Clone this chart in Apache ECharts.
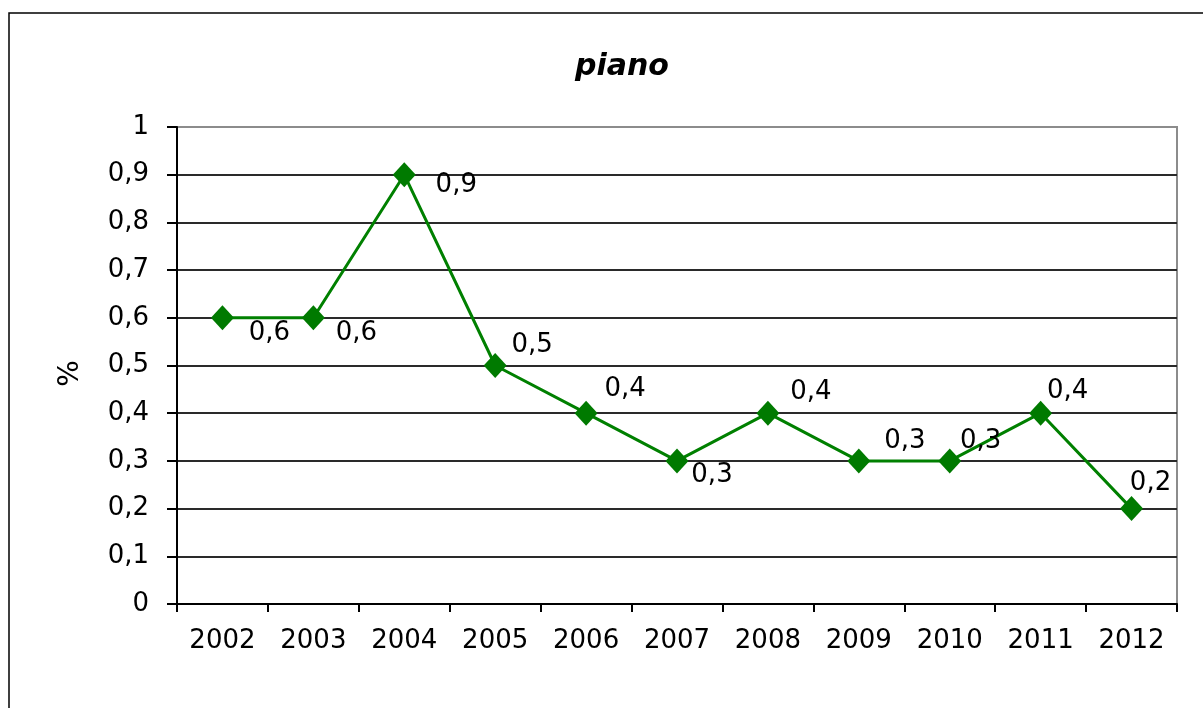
<!DOCTYPE html>
<html>
<head>
<meta charset="utf-8">
<script src="https://cdn.jsdelivr.net/npm/echarts@6/dist/echarts.min.js"></script>
<style>html,body{margin:0;padding:0;background:#fff;}#c{width:1203px;height:708px;}</style>
</head>
<body>
<div id="c"></div>
<script>
const titleText = 'piano';
const yAxisName = '%';
const categories = ['2002','2003','2004','2005','2006','2007','2008','2009','2010','2011','2012'];
const values = [0.6, 0.6, 0.9, 0.5, 0.4, 0.3, 0.4, 0.3, 0.3, 0.4, 0.2];
// label placement (style) relative to each marker
const labelOffsets = [[47,15],[43,15],[52,11],[37,-20],[39,-24],[35,14],[43,-21],[46,-20],[31,-20],[27,-22],[19,-25]];

const fmt = v => String(v).replace('.', ',');
const FONT = 'DejaVu Sans';

const chart = echarts.init(document.getElementById('c'), null, {renderer: 'canvas'});
const splitColors = [];
for (let i = 0; i < 11; i++) splitColors.push(i === 10 ? '#8c8c8c' : '#2a2a2a');

chart.setOption({
  animation: false,
  backgroundColor: '#fff',
  title: {
    text: titleText, left: 617, top: 47, textAlign: 'center',
    textStyle: {fontFamily: FONT, fontSize: 30, fontWeight: 'bold', fontStyle: 'italic', color: '#000'}
  },
  graphic: [{
    type: 'rect', shape: {x: 9, y: 13, width: 1260, height: 800},
    style: {fill: 'none', stroke: '#000', lineWidth: 1.5}, silent: true
  }],
  grid: {left: 177, right: 26, top: 127, bottom: 104, show: true, borderColor: '#8c8c8c', borderWidth: 2, backgroundColor: 'transparent'},
  xAxis: {
    type: 'category', data: categories, boundaryGap: true,
    axisLine: {lineStyle: {color: '#000', width: 2}},
    axisTick: {show: true, length: 8, alignWithLabel: false, lineStyle: {color: '#000', width: 2}},
    axisLabel: {margin: 24, color: '#000', fontFamily: FONT, fontSize: 26, interval: 0},
    splitLine: {show: false}
  },
  yAxis: {
    type: 'value', min: 0, max: 1, interval: 0.1,
    name: yAxisName, nameLocation: 'middle', nameRotate: 90, nameGap: 92,
    nameTextStyle: {fontFamily: FONT, fontSize: 28, color: '#000', padding: [0, 16, 0, 0]},
    axisLine: {show: true, lineStyle: {color: '#000', width: 2}},
    axisTick: {show: true, length: 10, inside: false, lineStyle: {color: '#000', width: 2}},
    axisLabel: {margin: 28, color: '#000', fontFamily: FONT, fontSize: 26, formatter: fmt},
    splitLine: {show: true, lineStyle: {color: splitColors, width: 2}}
  },
  series: [{
    type: 'line',
    data: values.map((v, i) => ({
      value: v,
      label: {offset: labelOffsets[i]}
    })),
    symbol: 'diamond', symbolSize: [23, 25],
    lineStyle: {color: '#008000', width: 3},
    itemStyle: {color: '#007a00'},
    label: {
      show: true, position: 'inside', align: 'center', verticalAlign: 'middle',
      color: '#000', fontFamily: FONT, fontSize: 26,
      formatter: p => fmt(p.value)
    },
    z: 3
  }]
});
</script>
</body>
</html>
